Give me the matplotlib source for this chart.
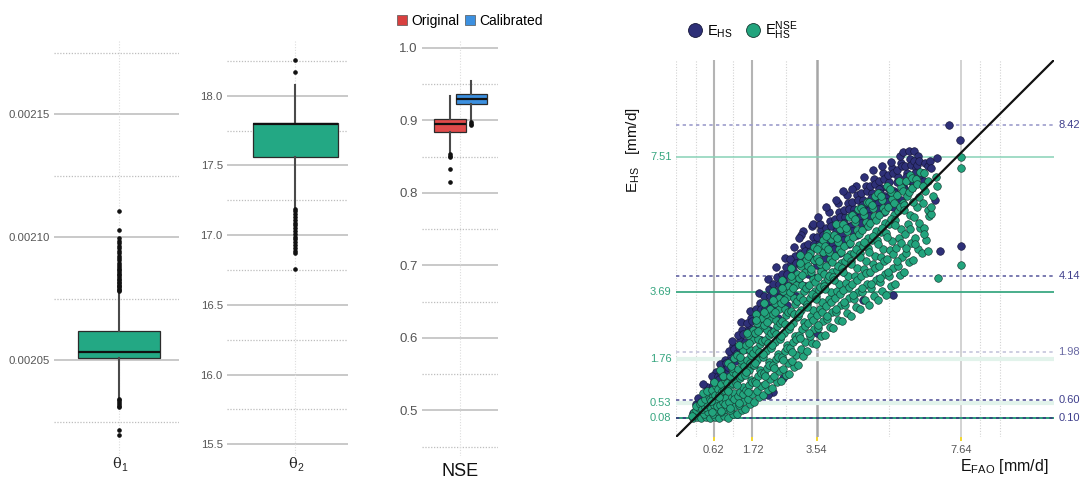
import matplotlib
matplotlib.use("Agg")
import matplotlib.pyplot as plt
from matplotlib.lines import Line2D
from matplotlib.patches import Patch

plt.rcParams['font.family'] = ['Liberation Sans', 'DejaVu Sans']
plt.rcParams['mathtext.fontset'] = 'custom'
plt.rcParams['mathtext.rm'] = 'Liberation Sans'
plt.rcParams['mathtext.it'] = 'Liberation Sans:italic'
plt.rcParams['mathtext.bf'] = 'Liberation Sans:bold'

# ---------------- box-plot data ----------------
theta1_stats = dict(med=0.0020533, q1=0.0020508, q3=0.0020618, whislo=0.0020346, whishi=0.0020776)
theta1_fliers = [0.002078, 0.0020785, 0.002079, 0.0020795, 0.00208, 0.0020806, 0.0020812, 0.0020818,
                 0.0020825, 0.002083, 0.0020838, 0.0020845, 0.002085, 0.0020858, 0.0020865, 0.0020872,
                 0.002088, 0.0020888, 0.0020895, 0.0020905, 0.0020915, 0.0020925, 0.0020935, 0.0020945,
                 0.0020955, 0.0020965, 0.0020975, 0.0020985, 0.0020995, 0.0021029, 0.0021106,
                 0.0020341, 0.0020336, 0.002033, 0.0020322, 0.0020315, 0.0020308, 0.0020217, 0.0020195]
theta1_ticks = [0.00205, 0.00210, 0.00215]
theta1_minor = [0.002025, 0.002075, 0.002125, 0.002175]

theta2_stats = dict(med=17.80, q1=17.56, q3=17.805, whislo=17.20, whishi=18.08)
theta2_fliers = [18.17, 18.26, 17.19, 17.17, 17.15, 17.13, 17.11, 17.09, 17.07, 17.05, 17.03, 17.01,
                 16.99, 16.97, 16.95, 16.93, 16.91, 16.89, 16.87, 16.76]
theta2_ticks = [15.5, 16.0, 16.5, 17.0, 17.5, 18.0]
theta2_minor = [15.75, 16.25, 16.75, 17.25, 17.75, 18.25]

nse_orig_stats = dict(med=0.8945, q1=0.8835, q3=0.9014, whislo=0.855, whishi=0.9335)
nse_orig_fliers = [0.853, 0.851, 0.849, 0.833, 0.815]
nse_cal_stats = dict(med=0.929, q1=0.922, q3=0.936, whislo=0.899, whishi=0.954)
nse_cal_fliers = [0.897, 0.895, 0.893]
nse_ticks = [0.5, 0.6, 0.7, 0.8, 0.9, 1.0]
nse_minor = [0.45, 0.55, 0.65, 0.75, 0.85, 0.95]
nse_legend = ['Original', 'Calibrated']

# ---------------- scatter data (E_FAO, E_HS) ----------------
ehs_pts = [
    (0.04, .22), (0.12, .48), (0.17, .66), (0.22, .35),
    (0.27, .55), (0.36, .80), (0.44, .98), (0.31, 1.05), (0.48, .70),
    (0.53, .90), (0.62, 1.15), (0.68, 1.40), (0.57, 1.28), (0.72, 1.05), (0.60, 1.02), (0.74, 1.30),
    (0.78, 1.20), (0.86, 1.50), (0.93, 1.75), (0.81, 1.62), (0.97, 1.35), (0.84, 1.38), (0.98, 1.65),
    (1.03, 1.55), (1.11, 1.85), (1.18, 2.15), (1.06, 2.00), (1.23, 1.70), (1.14, 2.28), (1.08, 1.72),
    (1.20, 2.05),
    (1.27, 1.95), (1.36, 2.30), (1.43, 2.60), (1.31, 2.45), (1.48, 2.10), (1.40, 2.82), (1.33, 2.12),
    (1.46, 2.48),
    (1.52, 2.25), (1.61, 2.65), (1.68, 2.95), (1.56, 2.80), (1.73, 2.45), (1.65, 3.15), (1.70, 1.90),
    (1.58, 2.55), (1.71, 2.85), (1.55, 2.05),
    (1.77, 2.60), (1.86, 3.00), (1.93, 3.35), (1.81, 3.20), (1.98, 2.80), (1.90, 3.65), (1.95, 2.30),
    (1.83, 2.85), (1.96, 3.20), (1.79, 2.40),
    (2.02, 2.90), (2.11, 3.35), (2.18, 3.75), (2.06, 3.55), (2.23, 3.10), (2.15, 4.05), (2.20, 2.60),
    (2.08, 3.20), (2.21, 3.55), (2.04, 2.75),
    (2.27, 3.25), (2.36, 3.70), (2.43, 4.10), (2.31, 3.90), (2.48, 3.45), (2.40, 4.40), (2.45, 2.95),
    (2.33, 3.55), (2.46, 3.90), (2.29, 3.10), (2.30, 0.83), (2.15, 0.74),
    (2.52, 3.55), (2.61, 4.00), (2.68, 4.40), (2.56, 4.20), (2.73, 3.75), (2.65, 4.65), (2.70, 3.30),
    (2.58, 3.85), (2.71, 4.20), (2.54, 3.40), (2.60, 1.22),
    (2.77, 3.85), (2.86, 4.30), (2.93, 4.70), (2.81, 4.50), (2.98, 4.05), (2.90, 4.95), (2.95, 3.55),
    (2.80, 4.62), (2.83, 4.15), (2.96, 4.50), (2.79, 3.70),
    (3.02, 4.10), (3.11, 4.60), (3.18, 5.00), (3.06, 4.80), (3.23, 4.35), (3.15, 5.40), (3.20, 3.85),
    (3.10, 5.30), (3.04, 5.20), (3.08, 4.45), (3.21, 4.85), (3.04, 3.95),
    (3.27, 4.35), (3.36, 4.85), (3.43, 5.25), (3.31, 5.05), (3.48, 4.60), (3.40, 5.55), (3.45, 4.10),
    (3.45, 5.62), (3.33, 4.70), (3.46, 5.05), (3.29, 4.20),
    (3.52, 4.55), (3.61, 5.05), (3.68, 5.45), (3.56, 5.25), (3.73, 4.80), (3.65, 5.60), (3.70, 4.30),
    (3.58, 5.80), (3.55, 2.50), (3.58, 4.95), (3.71, 5.30), (3.54, 4.45),
    (3.77, 4.80), (3.86, 5.30), (3.93, 5.70), (3.81, 5.50), (3.98, 5.05), (3.90, 5.95), (3.95, 4.55),
    (3.80, 6.10), (3.83, 5.15), (3.96, 5.55), (3.79, 4.65),
    (4.02, 5.05), (4.11, 5.55), (4.18, 5.95), (4.06, 5.75), (4.23, 5.30), (4.15, 6.20), (4.20, 4.80),
    (4.08, 6.30), (4.08, 5.40), (4.21, 5.80), (4.04, 4.90),
    (4.27, 5.30), (4.36, 5.80), (4.43, 6.20), (4.31, 6.00), (4.48, 5.55), (4.40, 6.45), (4.45, 5.05),
    (4.30, 6.55), (4.33, 5.65), (4.46, 6.05), (4.29, 5.15),
    (4.52, 5.55), (4.61, 6.05), (4.68, 6.45), (4.56, 6.25), (4.73, 5.80), (4.65, 6.70), (4.70, 5.30),
    (4.55, 6.60), (4.58, 5.90), (4.71, 6.30), (4.54, 5.40),
    (4.77, 5.80), (4.86, 6.30), (4.93, 6.70), (4.81, 6.50), (4.98, 6.05), (4.90, 6.95), (4.95, 5.55),
    (4.85, 3.45), (4.83, 6.15), (4.96, 6.55), (4.79, 5.65),
    (5.02, 6.00), (5.11, 6.50), (5.18, 6.90), (5.06, 6.70), (5.23, 6.25), (5.15, 7.15), (5.20, 5.75),
    (5.08, 6.35), (5.21, 6.75), (5.04, 5.85),
    (5.27, 6.20), (5.36, 6.65), (5.43, 7.05), (5.31, 6.85), (5.48, 6.40), (5.40, 7.25), (5.45, 5.95),
    (5.30, 6.60), (5.33, 6.50), (5.46, 6.90), (5.29, 6.05),
    (5.52, 6.35), (5.61, 6.80), (5.68, 7.20), (5.56, 7.00), (5.73, 6.55), (5.65, 7.38), (5.70, 6.10),
    (5.70, 3.60), (5.58, 6.65), (5.71, 7.05), (5.54, 6.25),
    (5.77, 6.50), (5.86, 6.95), (5.93, 7.35), (5.81, 7.15), (5.98, 6.70), (5.90, 7.55), (5.95, 6.30),
    (6.00, 7.66), (5.83, 6.80), (5.96, 7.25), (5.79, 6.40),
    (6.02, 6.60), (6.11, 7.05), (6.18, 7.45), (6.06, 7.25), (6.23, 6.85), (6.15, 7.70), (6.30, 7.70),
    (6.08, 6.95), (6.21, 7.30),
    (6.27, 6.80), (6.36, 7.20), (6.43, 7.55), (6.31, 7.40), (6.48, 7.00), (6.40, 7.30), (6.33, 7.05),
    (6.46, 7.40),
    (6.55, 7.05), (6.62, 7.35), (6.70, 7.25), (6.58, 6.85), (6.75, 7.40), (6.96, 7.50), (6.80, 7.20),
    (7.30, 8.42), (7.60, 8.00), (7.64, 5.00), (7.05, 4.85), (6.90, 6.30),
]

ehs_nse_pts = [
    (0.02, .08), (0.16, .12), (0.09, .17), (0.22, .22), (0.05, .27), (0.13, .32), (0.19, .38), (0.01, .14),
    (0.11, .44), (0.24, .50),
    (0.27, .08), (0.41, .13), (0.34, .20), (0.47, .27), (0.30, .34), (0.38, .41), (0.44, .48), (0.26, .55),
    (0.36, .63), (0.49, .71), (0.32, .79), (0.43, .86),
    (0.52, .08), (0.66, .12), (0.59, .20), (0.72, .29), (0.55, .38), (0.63, .46), (0.69, .54), (0.51, .63),
    (0.61, .71), (0.74, .80), (0.57, .89), (0.68, .99), (0.64, 1.12),
    (0.58, .25), (0.70, .42), (0.53, .58), (0.65, .75), (0.74, .92),
    (0.77, .09), (0.91, .15), (0.84, .25), (0.97, .35), (0.80, .45), (0.88, .55), (0.94, .65), (0.76, .75),
    (0.86, .85), (0.99, .95), (0.82, 1.05), (0.93, 1.17), (0.89, 1.30), (0.79, 1.45),
    (0.83, .30), (0.95, .50), (0.78, .70), (0.90, .90), (0.99, 1.10), (0.87, 1.30),
    (1.02, .10), (1.16, .20), (1.09, .32), (1.22, .44), (1.05, .56), (1.13, .68), (1.19, .80), (1.01, .92),
    (1.11, 1.04), (1.24, 1.16), (1.07, 1.28), (1.18, 1.40), (1.14, 1.52), (1.04, 1.65), (1.21, 1.80),
    (1.08, .38), (1.20, .62), (1.03, .86), (1.15, 1.10), (1.24, 1.34), (1.12, 1.58),
    (1.27, .20), (1.41, .32), (1.34, .45), (1.47, .58), (1.30, .71), (1.38, .84), (1.44, .97), (1.26, 1.10),
    (1.36, 1.23), (1.49, 1.36), (1.32, 1.49), (1.43, 1.62), (1.39, 1.75), (1.29, 1.88), (1.46, 2.02),
    (1.35, 2.18), (1.33, .52), (1.45, .78), (1.28, 1.04), (1.40, 1.30), (1.49, 1.56), (1.37, 1.82),
    (1.52, .35), (1.66, .48), (1.59, .62), (1.72, .76), (1.55, .90), (1.63, 1.04), (1.69, 1.18), (1.51, 1.32),
    (1.61, 1.46), (1.74, 1.60), (1.57, 1.74), (1.68, 1.88), (1.64, 2.02), (1.54, 2.16), (1.71, 2.30),
    (1.60, 2.45), (1.73, 2.60), (1.58, .83), (1.70, 1.11), (1.53, 1.39), (1.65, 1.67), (1.74, 1.95),
    (1.62, 2.23), (1.56, 2.50),
    (1.77, .55), (1.91, .70), (1.84, .85), (1.97, 1.00), (1.80, 1.15), (1.88, 1.30), (1.94, 1.45), (1.76, 1.60),
    (1.86, 1.75), (1.99, 1.90), (1.82, 2.05), (1.93, 2.20), (1.89, 2.35), (1.79, 2.50), (1.96, 2.65),
    (1.85, 2.80), (1.98, 2.95), (1.81, 3.05), (1.83, 1.08), (1.95, 1.37), (1.78, 1.67), (1.90, 1.97),
    (1.99, 2.27), (1.87, 2.57), (1.81, 2.87),
    (2.02, .75), (2.16, .90), (2.09, 1.05), (2.22, 1.20), (2.05, 1.36), (2.13, 1.52), (2.19, 1.68), (2.01, 1.84),
    (2.11, 2.00), (2.24, 2.15), (2.07, 2.30), (2.18, 2.45), (2.14, 2.60), (2.04, 2.75), (2.21, 2.90),
    (2.10, 3.05), (2.23, 3.20), (2.06, 3.35), (2.08, 1.28), (2.20, 1.60), (2.03, 1.92), (2.15, 2.22),
    (2.24, 2.52), (2.12, 2.82), (2.06, 3.12),
    (2.27, .95), (2.41, 1.12), (2.34, 1.28), (2.47, 1.44), (2.30, 1.60), (2.38, 1.76), (2.44, 1.92), (2.26, 2.08),
    (2.36, 2.24), (2.49, 2.40), (2.32, 2.56), (2.43, 2.72), (2.39, 2.88), (2.29, 3.04), (2.46, 3.20),
    (2.35, 3.36), (2.48, 3.52), (2.31, 3.70), (2.33, 1.52), (2.45, 1.84), (2.28, 2.16), (2.40, 2.48),
    (2.49, 2.80), (2.37, 3.12), (2.31, 3.44),
    (2.52, 1.15), (2.66, 1.32), (2.59, 1.49), (2.72, 1.66), (2.55, 1.83), (2.63, 2.00), (2.69, 2.17),
    (2.51, 2.34), (2.61, 2.51), (2.74, 2.68), (2.57, 2.85), (2.68, 3.02), (2.64, 3.19), (2.54, 3.36),
    (2.71, 3.53), (2.60, 3.70), (2.73, 3.86), (2.56, 4.02), (2.58, 1.74), (2.70, 2.08), (2.53, 2.42),
    (2.65, 2.76), (2.74, 3.10), (2.62, 3.44), (2.56, 3.78),
    (2.77, 1.35), (2.91, 1.53), (2.84, 1.71), (2.97, 1.89), (2.80, 2.07), (2.88, 2.25), (2.94, 2.43),
    (2.76, 2.61), (2.86, 2.79), (2.99, 2.97), (2.82, 3.15), (2.93, 3.33), (2.89, 3.51), (2.79, 3.69),
    (2.96, 3.87), (2.85, 4.05), (2.98, 4.20), (2.81, 4.35), (2.83, 1.98), (2.95, 2.34), (2.78, 2.70),
    (2.90, 3.06), (2.99, 3.42), (2.87, 3.78), (2.81, 4.12),
    (3.02, 1.60), (3.16, 1.85), (3.09, 2.05), (3.22, 2.25), (3.05, 2.45), (3.13, 2.63), (3.19, 2.81),
    (3.01, 2.99), (3.11, 3.17), (3.24, 3.35), (3.07, 3.53), (3.18, 3.71), (3.14, 3.89), (3.04, 4.07),
    (3.21, 4.25), (3.10, 4.43), (3.23, 4.58), (3.06, 4.72), (3.08, 2.36), (3.20, 2.72), (3.03, 3.08),
    (3.15, 3.44), (3.24, 3.80), (3.12, 4.16), (3.06, 4.50),
    (3.27, 2.00), (3.41, 2.22), (3.34, 2.42), (3.47, 2.62), (3.30, 2.80), (3.38, 2.98), (3.44, 3.16),
    (3.26, 3.34), (3.36, 3.52), (3.49, 3.70), (3.32, 3.88), (3.43, 4.06), (3.39, 4.24), (3.29, 4.42),
    (3.46, 4.60), (3.35, 4.78), (3.48, 4.95), (3.33, 2.52), (3.45, 2.89), (3.28, 3.25), (3.40, 3.61),
    (3.49, 3.97), (3.37, 4.33), (3.31, 4.69),
    (3.52, 2.20), (3.66, 2.42), (3.59, 2.64), (3.72, 2.84), (3.55, 3.02), (3.63, 3.20), (3.69, 3.38),
    (3.51, 3.56), (3.61, 3.74), (3.74, 3.92), (3.57, 4.10), (3.68, 4.28), (3.64, 4.46), (3.54, 4.64),
    (3.71, 4.82), (3.60, 5.00), (3.73, 5.15), (3.58, 2.74), (3.70, 3.11), (3.53, 3.47), (3.65, 3.83),
    (3.74, 4.19), (3.62, 4.55), (3.56, 4.91),
    (3.77, 2.45), (3.91, 2.68), (3.84, 2.90), (3.97, 3.10), (3.80, 3.29), (3.88, 3.48), (3.94, 3.67),
    (3.76, 3.86), (3.86, 4.05), (3.99, 4.24), (3.82, 4.43), (3.93, 4.62), (3.89, 4.81), (3.79, 5.00),
    (3.96, 5.18), (3.85, 5.35), (3.83, 3.00), (3.95, 3.38), (3.78, 3.76), (3.90, 4.14), (3.99, 4.52),
    (3.87, 4.90), (3.81, 5.26),
    (4.02, 2.65), (4.16, 2.88), (4.09, 3.10), (4.22, 3.31), (4.05, 3.51), (4.13, 3.71), (4.19, 3.91),
    (4.01, 4.11), (4.11, 4.31), (4.24, 4.51), (4.07, 4.71), (4.18, 4.91), (4.14, 5.11), (4.04, 5.30),
    (4.21, 5.47), (4.10, 5.62), (4.08, 3.20), (4.20, 3.61), (4.03, 4.01), (4.15, 4.41), (4.24, 4.81),
    (4.12, 5.20),
    (4.27, 2.85), (4.41, 3.08), (4.34, 3.30), (4.47, 3.51), (4.30, 3.72), (4.38, 3.93), (4.44, 4.14),
    (4.26, 4.35), (4.36, 4.56), (4.49, 4.77), (4.32, 4.98), (4.43, 5.19), (4.39, 5.40), (4.29, 5.60),
    (4.46, 5.80), (4.33, 3.40), (4.45, 3.82), (4.28, 4.24), (4.40, 4.66), (4.49, 5.08), (4.37, 5.50),
    (4.52, 3.00), (4.66, 3.24), (4.59, 3.47), (4.72, 3.69), (4.55, 3.91), (4.63, 4.13), (4.69, 4.35),
    (4.51, 4.57), (4.61, 4.79), (4.74, 5.01), (4.57, 5.23), (4.68, 5.45), (4.64, 5.66), (4.54, 5.86),
    (4.71, 6.05), (4.58, 3.58), (4.70, 4.02), (4.53, 4.46), (4.65, 4.90), (4.74, 5.34), (4.62, 5.76),
    (4.77, 3.20), (4.91, 3.44), (4.84, 3.67), (4.97, 3.90), (4.80, 4.12), (4.88, 4.34), (4.94, 4.56),
    (4.76, 4.78), (4.86, 5.00), (4.99, 5.22), (4.82, 5.44), (4.93, 5.66), (4.89, 5.87), (4.79, 6.07),
    (4.96, 6.25), (4.83, 3.78), (4.95, 4.23), (4.78, 4.67), (4.90, 5.11), (4.99, 5.55), (4.87, 5.97),
    (5.02, 3.30), (5.16, 3.55), (5.09, 3.79), (5.22, 4.02), (5.05, 4.25), (5.13, 4.48), (5.19, 4.71),
    (5.01, 4.94), (5.11, 5.17), (5.24, 5.40), (5.07, 5.63), (5.18, 5.85), (5.14, 6.06), (5.04, 6.25),
    (5.21, 6.42), (5.08, 3.90), (5.20, 4.36), (5.03, 4.82), (5.15, 5.28), (5.24, 5.74), (5.12, 6.15),
    (5.27, 3.45), (5.41, 3.70), (5.34, 3.95), (5.47, 4.19), (5.30, 4.43), (5.38, 4.67), (5.44, 4.91),
    (5.26, 5.15), (5.36, 5.39), (5.49, 5.63), (5.32, 5.86), (5.43, 6.08), (5.39, 6.30), (5.29, 6.50),
    (5.33, 4.07), (5.45, 4.55), (5.28, 5.03), (5.40, 5.51), (5.49, 5.97), (5.37, 6.40),
    (5.52, 3.60), (5.66, 3.86), (5.59, 4.12), (5.72, 4.37), (5.55, 4.62), (5.63, 4.87), (5.69, 5.12),
    (5.51, 5.37), (5.61, 5.62), (5.74, 5.87), (5.57, 6.10), (5.68, 6.32), (5.64, 6.52), (5.54, 6.70),
    (5.58, 4.25), (5.70, 4.75), (5.53, 5.25), (5.65, 5.75), (5.74, 6.21), (5.62, 6.61),
    (5.77, 3.90), (5.91, 4.16), (5.84, 4.42), (5.97, 4.68), (5.80, 4.94), (5.88, 5.20), (5.94, 5.46),
    (5.76, 5.72), (5.86, 5.98), (5.99, 6.22), (5.82, 6.45), (5.93, 6.66), (5.89, 6.85),
    (5.83, 4.55), (5.95, 5.07), (5.78, 5.59), (5.90, 6.10), (5.99, 6.55),
    (6.02, 4.25), (6.16, 4.52), (6.09, 4.79), (6.22, 5.06), (6.05, 5.33), (6.13, 5.60), (6.19, 5.87),
    (6.01, 6.14), (6.11, 6.40), (6.24, 6.64), (6.07, 6.85), (6.18, 7.00),
    (6.08, 4.92), (6.20, 5.46), (6.03, 6.00), (6.15, 6.52), (6.24, 6.93),
    (6.27, 4.60), (6.41, 4.90), (6.34, 5.20), (6.47, 5.50), (6.30, 5.80), (6.38, 6.10), (6.44, 6.38),
    (6.26, 6.64), (6.36, 6.88), (6.49, 7.08), (6.33, 5.05), (6.45, 5.65), (6.28, 6.24), (6.40, 6.76),
    (6.52, 4.80), (6.66, 5.15), (6.59, 5.50), (6.72, 5.85), (6.55, 6.20), (6.63, 6.55), (6.69, 6.85),
    (6.58, 7.05), (6.60, 5.32), (6.70, 6.02), (6.56, 6.70),
    (6.78, 5.90), (6.85, 6.40), (6.92, 6.95), (6.96, 6.70), (6.80, 6.10), (6.70, 4.84),
    (7.00, 4.07), (7.64, 4.44), (7.64, 7.20), (7.64, 7.51),
]

efao_ticks = [0.62, 1.72, 3.54, 7.64]
efao_dotted = [-0.44, 0.11, 1.17, 2.66, 5.60, 8.18, 8.75]
ehs_nse_levels = [7.51, 3.69, 1.76, 0.53, 0.08]
ehs_levels = [8.42, 4.14, 1.98, 0.60, 0.10]
series_labels = [r'$\mathrm{E_{HS}}$', r'$\mathrm{E_{HS}^{NSE}}$']

# ---------------- styling ----------------
W, H = 1082, 478
fig = plt.figure(figsize=(W / 100, H / 100), dpi=100)
GREEN_BOX = '#23a884'
NAVY = '#2e3078'
GREEN = '#22a47d'
GRID_MAJ = '#c9c9c9'
GRID_MIN = '#bdbdbd'
TICK_C = '#555555'


def px_axes(l, t, r, b):
    return fig.add_axes([l / W, 1 - b / H, (r - l) / W, (b - t) / H])


def style_box_axes(ax, ylim, ticks, minor, fs):
    ax.set_xlim(0, 1)
    ax.set_ylim(*ylim)
    for s in ax.spines.values():
        s.set_visible(False)
    ax.set_yticks(ticks)
    ax.tick_params(axis='y', length=0, labelsize=fs, labelcolor=TICK_C, pad=3)
    for t in ticks:
        ax.axhline(t, color=GRID_MAJ, lw=1.4, zorder=0)
    for t in minor:
        ax.axhline(t, color=GRID_MIN, lw=0.9, ls=(0, (1, 1.3)), zorder=0)


def draw_box(ax, stats, fliers, pos, width, color):
    st = dict(stats)
    st['fliers'] = fliers
    ax.bxp([st], positions=[pos], widths=[width], patch_artist=True, showcaps=False,
           boxprops=dict(facecolor=color, edgecolor='#2b2b2b', linewidth=0.9),
           medianprops=dict(color='#111111', linewidth=1.6),
           whiskerprops=dict(color='#4a4a4a', linewidth=1.5),
           flierprops=dict(marker='o', markersize=2.3, markerfacecolor='#111111',
                           markeredgecolor='#111111', linestyle='none'))
    ax.set_xticks([])
    ax.set_xlim(0, 1)


# Panel 1: theta1
ax1 = px_axes(54, 40, 179, 456)
style_box_axes(ax1, (0.002011, 0.0021801), theta1_ticks, theta1_minor, 8.2)
ax1.set_yticklabels(['0.00205', '0.00210', '0.00215'])
ax1.axvline(0.52, color='#dddddd', lw=0.8, ls=(0, (1, 1.5)), zorder=0)
draw_box(ax1, theta1_stats, theta1_fliers, 0.52, 0.656, GREEN_BOX)

# Panel 2: theta2
ax2 = px_axes(227, 40, 348, 456)
style_box_axes(ax2, (15.416, 18.40), theta2_ticks, theta2_minor, 8.2)
ax2.set_yticklabels(['15.5', '16.0', '16.5', '17.0', '17.5', '18.0'])
ax2.axvline(0.566, color='#dddddd', lw=0.8, ls=(0, (1, 1.5)), zorder=0)
draw_box(ax2, theta2_stats, theta2_fliers, 0.566, 0.70, GREEN_BOX)

# Panel 3: NSE
ax3 = px_axes(422, 40, 498, 456)
style_box_axes(ax3, (0.4372, 1.0106), nse_ticks, nse_minor, 9.5)
ax3.set_yticklabels(['0.5', '0.6', '0.7', '0.8', '0.9', '1.0'])
ax3.axvline(0.5, color='#dddddd', lw=0.8, ls=(0, (1, 1.5)), zorder=0)
draw_box(ax3, nse_orig_stats, nse_orig_fliers, 0.368, 0.42, '#e04b4b')
draw_box(ax3, nse_cal_stats, nse_cal_fliers, 0.651, 0.41, '#3c90e0')

fig.legend(handles=[Patch(facecolor='#d8403f', edgecolor='#555555', lw=0.5),
                    Patch(facecolor='#3c90e0', edgecolor='#555555', lw=0.5)],
           labels=nse_legend, loc='center left', bbox_to_anchor=(397 / W, 1 - 21 / H),
           ncol=2, frameon=False, fontsize=10, handlelength=0.75, handleheight=0.65,
           handletextpad=0.3, columnspacing=0.35, borderpad=0, borderaxespad=0)

for cx, sub in [(119, '1'), (295, '2')]:
    fig.text((cx - 2) / W, 1 - 464 / H, 'θ', family='DejaVu Serif', ha='center', va='center',
             fontsize=10.5, color='#222222')
    fig.text((cx + 2.5) / W, 1 - 468 / H, sub, ha='left', va='center', fontsize=7.5, color='#222222')
fig.text(460 / W, 1 - 471 / H, 'NSE', ha='center', va='center', fontsize=13, color='#111111')

# ---------------- scatter panel ----------------
axs = px_axes(676, 60, 1054, 437)
lim = (-0.45, 10.28)
axs.set_xlim(*lim)
axs.set_ylim(*lim)
for s in axs.spines.values():
    s.set_visible(False)

for xv in efao_dotted:
    axs.axvline(xv, color='#d2d2d2', lw=0.8, ls=(0, (1, 1.5)), zorder=0)
solid_styles = {0.62: ('#b4b4b4', 1.5), 1.72: ('#b4b4b4', 1.5), 3.54: ('#a6a6a6', 1.8), 7.64: ('#cfcfcf', 1.3)}
for xv in efao_ticks:
    c, lw = solid_styles[xv]
    axs.axvline(xv, color=c, lw=lw, zorder=0)

green_line_styles = ['#88d2b6', '#3aa882', '#e2f3eb', '#e2f3eb', '#2a9e78']
green_line_widths = [1.1, 1.3, 3.0, 3.0, 1.4]
for yv, c, lw in zip(ehs_nse_levels, green_line_styles, green_line_widths):
    axs.axhline(yv, color=c, lw=lw, zorder=0)
navy_line_styles = ['#9d9dcc', '#6363a3', '#c5c5dc', '#5a5a9c', '#3a3a80']
for yv, c in zip(ehs_levels, navy_line_styles):
    axs.axhline(yv, color=c, lw=1.2, ls=(0, (2, 2)), zorder=0)

ex = [p[0] for p in ehs_pts]
ey = [p[1] for p in ehs_pts]
gx = [p[0] for p in ehs_nse_pts]
gy = [p[1] for p in ehs_nse_pts]
axs.scatter(ex, ey, s=30, color=NAVY, edgecolor='#15163a', linewidth=0.45, zorder=2)
axs.scatter(gx, gy, s=30, color=GREEN, edgecolor='#153a32', linewidth=0.45, zorder=3)
axs.axline((0, 0), slope=1, color='#111111', lw=1.6, zorder=4)

axs.set_xticks(efao_ticks)
axs.set_xticklabels([f'{v:.2f}' for v in efao_ticks])
axs.tick_params(axis='x', length=3, width=1.3, color='#f2d31b', labelsize=8, labelcolor=TICK_C, pad=3)
axs.set_yticks([])

ytr = axs.get_yaxis_transform()
for yv in ehs_nse_levels:
    axs.text(-0.012, yv, f'{yv:.2f}', transform=ytr, ha='right', va='center', fontsize=8,
             color='#35a57f')
navy_lbl_colors = ['#3f3f8c', '#3f3f8c', '#6a6aa4', '#3f3f8c', '#3f3f8c']
for yv, c in zip(ehs_levels, navy_lbl_colors):
    axs.text(1.012, yv, f'{yv:.2f}', transform=ytr, ha='left', va='center', fontsize=8, color=c)

fig.text(633 / W, 1 - 150 / H, r'$\mathrm{E_{HS}}$   [mm/d]', rotation=90, ha='center', va='center',
         fontsize=11, color='#111111')
fig.text(1049 / W, 1 - 467 / H, r'$\mathrm{E_{FAO}}$ [mm/d]', ha='right', va='center',
         fontsize=11.5, color='#111111')

leg_handles = [Line2D([], [], marker='o', ls='none', markersize=10, markerfacecolor=NAVY,
                      markeredgecolor='#15163a', markeredgewidth=0.6),
               Line2D([], [], marker='o', ls='none', markersize=10, markerfacecolor=GREEN,
                      markeredgecolor='#153a32', markeredgewidth=0.6)]
fig.legend(handles=leg_handles, labels=series_labels, loc='center left',
           bbox_to_anchor=(688 / W, 1 - 31 / H), ncol=2, frameon=False, fontsize=10.5,
           handlelength=1.0, handletextpad=0.3, columnspacing=0.9, borderpad=0, borderaxespad=0)

fig.savefig('out.png', dpi=100)
